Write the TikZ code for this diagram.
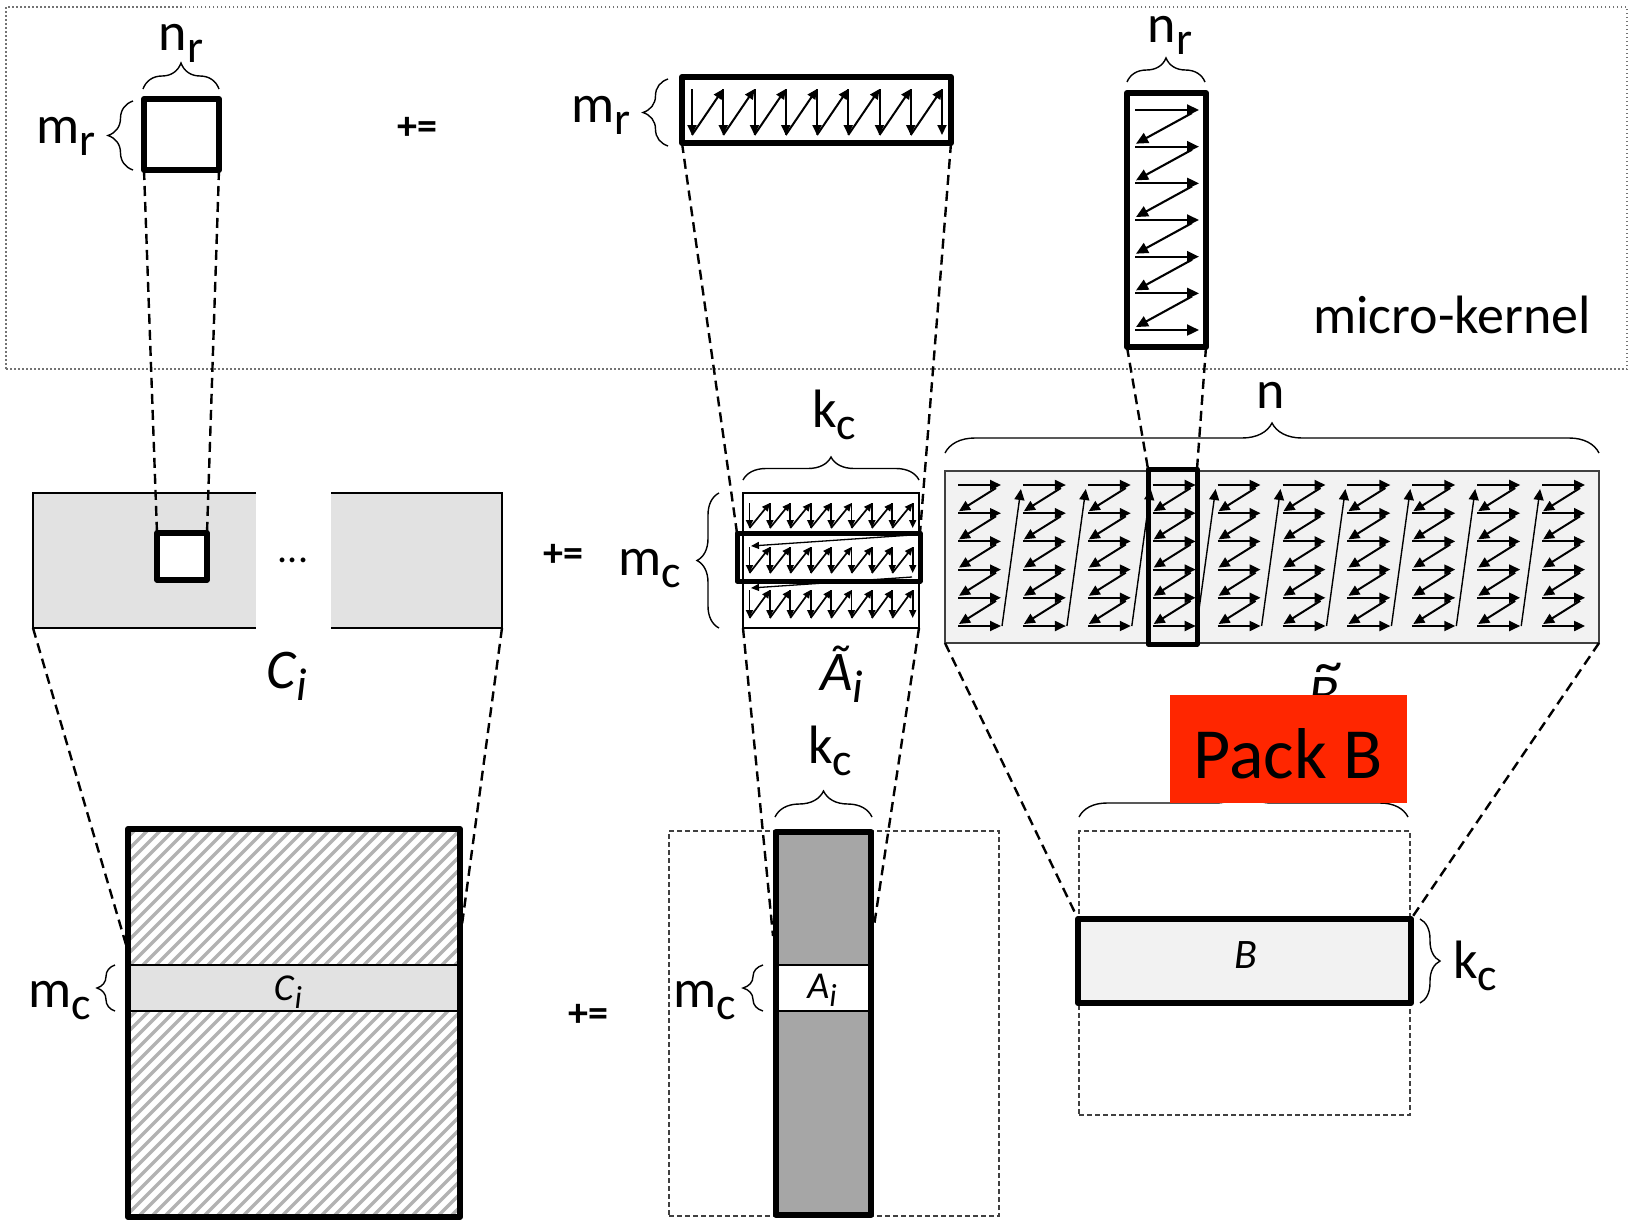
\documentclass[tikz,border=0pt]{standalone}
\usepackage{fontspec}
\setmainfont{Carlito}
\usetikzlibrary{arrows.meta,decorations.pathreplacing}
\newcommand\sbx[2]{#1\raisebox{-0.24em}{\fontsize{46}{46}\selectfont #2}}
\newcommand\isb[3]{\textit{#1}\raisebox{-0.22em}{\fontsize{#3}{#3}\selectfont\textit{#2}}}
\definecolor{packred}{RGB}{255,38,0}
\definecolor{stip}{RGB}{226,226,226}
\definecolor{lightp}{RGB}{242,242,242}
\definecolor{colA}{RGB}{166,166,166}
\begin{document}
\begin{tikzpicture}[x=1pt,y=-1pt,
  box/.style={draw, line width=6pt, inner sep=0pt, outer sep=0pt, line join=round},
  shp/.style={inner sep=0pt, outer sep=0pt},
  proj/.style={dash pattern=on 10pt off 6pt, line width=2.4pt},
  dbox/.style={draw=black!75, dash pattern=on 5pt off 3pt, line width=1.2pt, inner sep=0pt, outer sep=0pt},
  mybrace/.style={decorate, decoration={brace, amplitude=#1}, line width=1.4pt},
  lab/.style={font=\fontsize{54}{60}\selectfont, inner sep=0pt, anchor=base},
  pe/.style={font=\bfseries\fontsize{40}{40}\selectfont, inner sep=0pt},
  zza/.style={-{Triangle[length=10pt,width=9pt]}, line width=2pt},
  zzb/.style={-{Triangle[length=12pt,width=11pt]}, line width=2.1pt},
  zzc/.style={-{Triangle[length=8pt,width=7pt]}, line width=1.7pt},
  zzd/.style={-{Triangle[length=11pt,width=10pt]}, line width=2pt}]
\fill[white] (0,0) rectangle (1633,1224);
\useasboundingbox (0,0) rectangle (1633,1224);

% ---------- micro-kernel frame ----------
\node[shp, draw=black!55, dash pattern=on 1.5pt off 2.5pt, line width=1.5pt,
      minimum width=1621pt, minimum height=362pt] (frame) at (816.5,188) {};

% micro C
\node[box, fill=white, minimum width=75pt, minimum height=71pt] (mC) at (181.5,134.5) {};
\draw[mybrace=26pt] (143,89) -- (219,89);
\node[lab] (nr1) at (181,50) {\sbx{n}{r}};
\draw[mybrace=25pt] (133,170) -- (133,101);
\node[lab] (mr1) at (66,143) {\sbx{m}{r}};
\node[pe] (pe1) at (417,128) {+=};

% micro A
\node[box, fill=white, minimum width=269pt, minimum height=66pt] (mA) at (816.5,110) {};
\foreach \i in {0,...,8} \draw[zza] ({692+\i*31.25},89) -- ({692+\i*31.25},135);
\foreach \i in {0,...,7} \draw[zza] ({692+\i*31.25},135) -- ({723.25+\i*31.25},89);
\draw[mybrace=25pt] (668,146) -- (668,79);
\node[lab] (mr2) at (601,122) {\sbx{m}{r}};

% micro B
\node[box, fill=white, minimum width=79pt, minimum height=254pt] (mB) at (1166.5,220) {};
\foreach \j in {0,...,6} \draw[zzb] (1135,{110+\j*36.67}) -- (1199,{110+\j*36.67});
\foreach \j in {0,...,5} \draw[zzb] (1192,{113+\j*36.67}) -- (1136,{143.67+\j*36.67});
\draw[mybrace=24pt] (1127,82) -- (1205,82);
\node[lab] (nr2) at (1170,42) {\sbx{n}{r}};
\node[lab] (mk) at (1452,333) {micro-kernel};

% ---------- C_i panel ----------
\node[shp, fill=stip, minimum width=223pt, minimum height=135pt] (cL) at (144.5,560.5) {};
\node[shp, fill=stip, minimum width=171pt, minimum height=135pt] (cR) at (416.5,560.5) {};
\draw[line width=1.5pt] (cL.north east) -- (cL.north west) -- (cL.south west) -- (cL.south east);
\draw[line width=1.5pt] (cR.north west) -- (cR.north east) -- (cR.south east) -- (cR.south west);
\node[box, fill=white, line width=5.5pt, minimum width=50pt, minimum height=47pt] (cS) at (182,556.5) {};
\node[font=\fontsize{40}{40}\selectfont, inner sep=0pt] (dots) at (293,560) {...};
\node[font=\fontsize{56}{60}\selectfont, inner sep=0pt, anchor=base] (CiL) at (287,688) {\isb{C}{i}{46}};
\node[pe] (pe2) at (563,555) {+=};

% ---------- A tilde panel ----------
\node[shp, draw, fill=white, line width=2pt, minimum width=176pt, minimum height=135pt] (At) at (831,560.5) {};
\foreach \r/\ya/\yb in {0/503/528, 1/547/573, 2/590/618} {
  \foreach \i in {0,...,8} \draw[zzc] ({749.5+\i*20.4},\ya) -- ({749.5+\i*20.4},\yb);
  \foreach \i in {0,...,7} \draw[zzc] ({749.5+\i*20.4},\yb) -- ({769.9+\i*20.4},\ya);
}
\draw[zzc, line width=1.3pt] (912,535) -- (751,546);
\draw[zzc, line width=1.3pt] (912,577) -- (751,588);
\node[box, line width=5pt, minimum width=183pt, minimum height=48pt] (AtR) at (828.5,557) {};
\draw[mybrace=23pt] (743,480) -- (919,480);
\node[lab] (kc1) at (834,427) {\sbx{k}{c}};
\draw[mybrace=22pt] (719,628) -- (719,493);
\node[lab] (mc1) at (650,575) {\sbx{m}{c}};
\node[font=\fontsize{56}{60}\selectfont, inner sep=0pt, anchor=base] (AtL) at (842,690) {\isb{Ã}{i}{46}};

% ---------- B tilde panel ----------
\node[shp, draw=black!75, fill=lightp, line width=1.5pt, minimum width=654pt, minimum height=172pt] (Bt) at (1272,557) {};
\foreach \c in {0,...,9} {
  \foreach \j in {0,...,5} \draw[zzd] ({958+\c*64.9},{485+\j*28.2}) -- ({1001+\c*64.9},{485+\j*28.2});
  \foreach \j in {0,...,4} \draw[zzd] ({996+\c*64.9},{488+\j*28.2}) -- ({959+\c*64.9},{511.2+\j*28.2});
}
\foreach \c in {0,...,8} \draw[zzd, line width=1.4pt] ({1002+\c*64.9},626) -- ({1020.9+\c*64.9},489);
\node[box, line width=5pt, minimum width=49pt, minimum height=175pt] (BtR) at (1172.5,556.5) {};
\draw[mybrace=30pt] (945,453) -- (1599,453);
\node[lab] (nlab) at (1271,408) {n};
\node[font=\fontsize{56}{60}\selectfont, inner sep=0pt, anchor=base] (BtL) at (1324,713)
  {\textit{\rlap{\raisebox{0.52em}{\hspace{0.14em}\textasciitilde}}B}};
\draw[mybrace=28pt] (1079,817) -- (1408,817);
\node[shp, fill=packred, minimum width=237pt, minimum height=108pt] (packB) at (1288.5,749) {};
\node[font=\fontsize{72}{76}\selectfont, inner sep=0pt, anchor=base] (packT) at (1288,778) {Pack B};

% ---------- big C ----------
\begin{scope}
  \clip (128,829) rectangle (460,1217);
  \foreach \k in {0,...,57} \draw[black!30, line width=3.5pt] ({-265+\k*13},1217) -- ++(400,-400);
\end{scope}
\node[shp, fill=stip, minimum width=332pt, minimum height=46pt] (bandC) at (294,988) {};
\draw[line width=1.5pt] (bandC.north west) -- (bandC.north east);
\draw[line width=1.5pt] (bandC.south west) -- (bandC.south east);
\node[box, minimum width=332pt, minimum height=388pt] (bigC) at (294,1023) {};
\node[font=\fontsize{38}{40}\selectfont, inner sep=0pt, anchor=base] (CiB) at (288,1000) {\isb{C}{i}{32}};
\draw[mybrace=18pt] (115,1011) -- (115,965);
\node[lab] (mc2) at (60,1007) {\sbx{m}{c}};
\node[pe] (pe3) at (588,1015) {+=};

% ---------- A column ----------
\node[dbox, minimum width=330pt, minimum height=385pt] (Abox) at (834,1023.5) {};
\coordinate (aEndL) at (773,936);
\coordinate (aEndR) at (874,926);
\draw[proj] (At.south west) -- (aEndL);
\draw[proj] (At.south east) -- (aEndR);
\node[shp, fill=colA, minimum width=95pt, minimum height=383pt] (Acol) at (823.5,1023.5) {};
\node[shp, fill=white, minimum width=95pt, minimum height=46pt] (Aband) at (823.5,988) {};
\draw[line width=1.5pt] (Aband.north west) -- (Aband.north east);
\draw[line width=1.5pt] (Aband.south west) -- (Aband.south east);
\draw[line width=6pt, line join=round] (Acol.north west) rectangle (Acol.south east);
\node[font=\fontsize{38}{40}\selectfont, inner sep=0pt, anchor=base] (AiL) at (822,998) {\isb{A}{i}{32}};
\draw[mybrace=26pt] (775,817) -- (872,817);
\node[lab] (kc2) at (830,763) {\sbx{k}{c}};
\draw[mybrace=20pt] (763,1011) -- (763,965);
\node[lab] (mc3) at (705,1007) {\sbx{m}{c}};

% ---------- B ----------
\node[dbox, minimum width=331pt, minimum height=284pt] (Bbox) at (1244.5,973) {};
\node[box, fill=lightp, minimum width=333pt, minimum height=84pt] (Brect) at (1244.5,961) {};
\node[font=\fontsize{42}{44}\selectfont, inner sep=0pt, anchor=base] (BL) at (1246,968) {\textit{B}};
\draw[mybrace=20pt] (1420,919) -- (1420,1003);
\node[lab] (kc3) at (1475,978) {\sbx{k}{c}};

% ---------- projection lines ----------
\coordinate (cEndL) at (127,948);
\coordinate (cEndR) at (461,932);
\draw[proj] (mC.south west) -- (cS.north west);
\draw[proj] (mC.south east) -- (cS.north east);
\draw[proj] (mA.south west) -- (AtR.north west);
\draw[proj] (mA.south east) -- (AtR.north east);
\draw[proj] (mB.south west) -- (BtR.north west);
\draw[proj] (mB.south east) -- (BtR.north east);
\draw[proj] (cL.south west) -- (cEndL);
\draw[proj] (cR.south east) -- (cEndR);
\draw[proj] (Bt.south west) -- (Brect.north west);
\draw[proj] (Bt.south east) -- (Brect.north east);
\end{tikzpicture}
\end{document}
